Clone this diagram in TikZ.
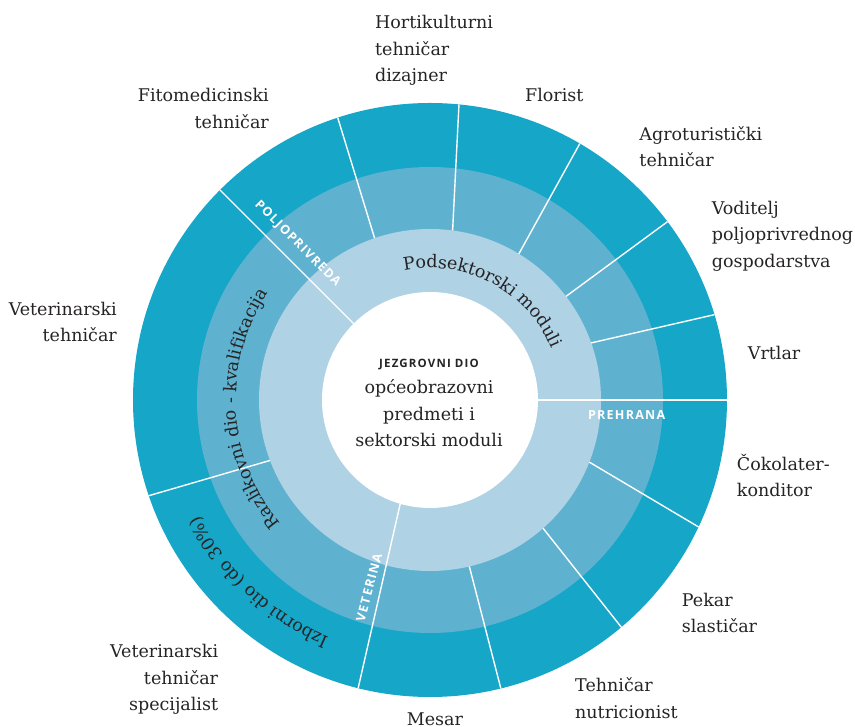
\documentclass[tikz,border=0pt]{standalone}
\usepackage{fontspec}
\setmainfont{DejaVu Serif}
\newfontfamily\tagfont[LetterSpace=10]{Open Sans}
\definecolor{ringout}{HTML}{15A6C8}
\definecolor{ringmid}{HTML}{5EB2D0}
\definecolor{ringin}{HTML}{AFD2E5}
\definecolor{ink}{HTML}{262324}
\newcommand\ringfont{\fontsize{17.5}{20}\selectfont}
\newbox\ringbox
% width of one letter, set outside the picture's null font
\newcommand\ringmeasure[1]{%
  \pgfinterruptpicture
    \setbox\ringbox\hbox{\ringfont#1}%
    \xdef\ringw{\the\wd\ringbox}%
  \endpgfinterruptpicture}
% text set clockwise round the centre: #1 name, #2 radius, #3 middle angle, #4 letters
\newcommand\arclabel[4]{%
  \gdef\ringsum{0}%
  \foreach \ch in {#4}{%
    \ringmeasure{\ch}%
    \pgfmathsetmacro\ringtmp{\ringsum+\ringw}%
    \global\let\ringsum\ringtmp}%
  \pgfmathsetmacro\ringpos{#3+\ringsum/2/#2*180/pi}%
  \global\let\ringcur\ringpos
  \foreach \ch [count=\k] in {#4}{%
    \ringmeasure{\ch}%
    \pgfmathsetmacro\ringmid{\ringcur-\ringw/2/#2*180/pi}%
    \node[ringchar, rotate=\ringmid-90] (#1-\k) at (\ringmid:#2) {\ch};
    \pgfmathsetmacro\ringtmp{\ringcur-\ringw/#2*180/pi}%
    \global\let\ringcur\ringtmp}%
}

\begin{document}
\begin{tikzpicture}[x=1pt, y=1pt,
  spoke/.style={white, line width=1.4pt},
  qual/.style={font=\fontsize{17.5}{26.5}\selectfont, text=ink, inner sep=0pt},
  sector/.style={font=\tagfont\bfseries\fontsize{12.5}{13}\selectfont, text=white, inner sep=0pt},
  ringchar/.style={font=\ringfont, text=ink, inner sep=0pt, anchor=base}]
\useasboundingbox (-430,-327) rectangle (425,400);
% rings
\fill[ringout] (0,0) circle[radius=297];
\fill[ringmid] (0,0) circle[radius=233];
\fill[ringin] (0,0) circle[radius=171];
\fill[white] (0,0) circle[radius=108];
% sector borders
\draw[spoke] (0:108) -- (0:297);
\draw[spoke] (135:108) -- (135:297);
\draw[spoke] (254:108) -- (256:297);
% qualification borders
\draw[spoke] (19.5:171) -- (16.7:297);
\draw[spoke] (37.3:171) -- (36.9:297);
\draw[spoke] (58.7:171) -- (59.7:297);
\draw[spoke] (82.4:171) -- (84.4:297);
\draw[spoke] (108.9:171) -- (108.1:297);
\draw[spoke] (200.7:171) -- (198.8:297);
\draw[spoke] (-76.7:171) -- (-76.2:297);
\draw[spoke] (-48.6:171) -- (-49.9:297);
\draw[spoke] (-21.3:171) -- (-25.3:297);
% ring texts
\arclabel{podsektor}{132}{62}{P,o,d,s,e,k,t,o,r,s,k,i,\space,m,o,d,u,l,i}
\arclabel{razlikovni}{194}{183}{R,a,z,l,i,k,o,v,n,i,\space,d,i,o,\space,-,\space,k,v,a,l,i,f,i,k,a,c,i,j,a}
\arclabel{izborni}{258}{226.8}{I,z,b,o,r,n,i,\space,d,i,o,\space,{(},d,o,\space,3,0,\%,{)}}
% sectors
\node[sector, rotate=-45] (poljo) at (-132.5,156) {POLJOPRIVREDA};
\node[sector, anchor=base] (prehrana) at (196.7,-19.3) {PREHRANA};
\node[sector, rotate=75] (veterina) at (-61,-187.5) {VETERINA};
% core
\node[qual, align=center, anchor=base] (jezgra) at (-1,-46.7)
  {{\tagfont\bfseries\fontsize{11.5}{12}\selectfont JEZGROVNI DIO}\\općeobrazovni\\predmeti i\\sektorski moduli};
% qualifications
\node[qual, anchor=base west, align=left] (horti) at (-55,318) {Hortikulturni\\tehničar\\dizajner};
\node[qual, anchor=base west, align=left] (florist) at (95,298.3) {Florist};
\node[qual, anchor=base east, align=right] (fito) at (-161,271.7) {Fitomedicinski\\tehničar};
\node[qual, anchor=base west, align=left] (agro) at (209.3,233.3) {Agroturistički\\tehničar};
\node[qual, anchor=base west, align=left] (voditelj) at (281.7,132.7) {Voditelj\\poljoprivrednog\\gospodarstva};
\node[qual, anchor=base west, align=left] (vrtlar) at (317.7,40) {Vrtlar};
\node[qual, anchor=base west, align=left] (cokolater) at (306.7,-96.7) {Čokolater-\\konditor};
\node[qual, anchor=base west, align=left] (pekar) at (251.7,-232.7) {Pekar\\slastičar};
\node[qual, anchor=base west, align=left] (nutri) at (145,-318.3) {Tehničar\\nutricionist};
\node[qual, anchor=base west, align=left] (mesar) at (-23.3,-326) {Mesar};
\node[qual, anchor=base east, align=right] (vetspec) at (-211.7,-310.7) {Veterinarski\\tehničar\\specijalist};
\node[qual, anchor=base east, align=right] (vet) at (-313,58.3) {Veterinarski\\tehničar};
\end{tikzpicture}
\end{document}
